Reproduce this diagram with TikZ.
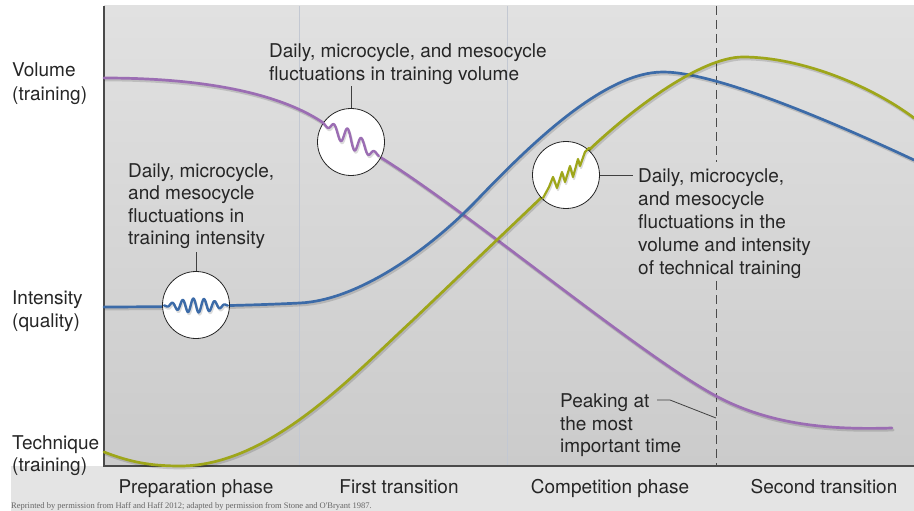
\documentclass[tikz,border=0pt]{standalone}
\usepackage{fontspec}
\setmainfont{TeX Gyre Heros}
\newfontfamily\notefont{Liberation Serif}
\definecolor{volc}{HTML}{9B6DB3}
\definecolor{intc}{HTML}{3C6BA8}
\definecolor{tecc}{HTML}{9EA61A}
\definecolor{txtc}{HTML}{262626}
\definecolor{axc}{HTML}{4A4A4A}
\definecolor{phc}{HTML}{C3C8D2}
\definecolor{stripc}{HTML}{E4E4E4}
\definecolor{bgtop}{HTML}{E1E1E1}
\definecolor{bgbot}{HTML}{CBCBCB}
\tikzset{
  lbl/.style={font=\fontsize{19}{23}\selectfont, text=txtc, inner sep=0pt, anchor=base west},
  phaselbl/.style={lbl, anchor=base},
  curve/.style={line width=2.7pt, line cap=round, line join=round},
  lens/.style={circle, draw=black!85, line width=0.8pt, fill=white, minimum size=67pt, inner sep=0pt},
  leader/.style={draw=black!75, line width=0.8pt},
  shadowc/.style={draw=black, draw opacity=0.14},
}
\begin{document}
\begin{tikzpicture}[x=1pt,y=-1pt]
\useasboundingbox (0,0) rectangle (914,511);
\fill[white] (0,0) rectangle (914,511);
\fill[stripc] (11,466) rectangle (914,511);
\shade[top color=bgtop, bottom color=bgbot] (104,6) rectangle (914,466);
% phase separators
\draw[phc, line width=0.8pt] (299,6) -- (299,466);
\draw[phc, line width=0.8pt] (507,6) -- (507,466);
\draw[axc, line width=1pt, dash pattern=on 9pt off 5pt] (716,6) -- (716,162);
\draw[axc, line width=1pt, dash pattern=on 9pt off 5pt] (716,281) -- (716,466);
% axes
\draw[axc, line width=1.4pt] (104,6) -- (104,466) -- (914,466);
% curves
\foreach \dx/\dy/\c in {1.2/-2/shadowc, 0/0/volc} {
  \draw[curve, \c, xshift=\dx pt, yshift=\dy pt] (104,78) .. controls (230,78) and (292,102) .. (322,122) -- (380,157) .. controls (470,213) and (640,355) .. (716,396) .. controls (770,425) and (830,430) .. (892,428);
}
\foreach \dx/\dy/\c in {1.2/-2/shadowc, 0/0/intc} {
  \draw[curve, \c, xshift=\dx pt, yshift=\dy pt] (104,307) .. controls (170,306.8) and (240,306) .. (300,303) .. controls (360,300) and (432,247) .. (477,200) .. controls (527,148) and (603,72) .. (663,72) .. controls (720,72) and (850,130) .. (914,160);
}
\foreach \dx/\dy/\c in {1.2/-2/shadowc, 0/0/tecc} {
  \draw[curve, \c, xshift=\dx pt, yshift=\dy pt] (104,452) .. controls (130,462) and (150,466) .. (180,466) .. controls (270,466) and (353,375) .. (413,320) -- (543,196) -- (589,150) .. controls (630,111) and (700,57) .. (743,57) .. controls (800,57) and (870,85) .. (914,118);
}
% magnifier circles
\node[lens] (cI) at (196,305) {};
\node[lens] (cV) at (351,142) {};
\node[lens] (cT) at (566,175) {};
% wiggles
\foreach \dx/\dy/\c in {1/-2/shadowc, 0/0/intc} {
  \draw[curve, \c, line width=2.4pt, xshift=\dx pt, yshift=\dy pt] plot[domain=0:1, samples=150, smooth, variable=\t] ({164+64*\t},{305.5+7*sin(\t*360*6)*sin(\t*180)});
}
\foreach \dx/\dy/\c in {1/-2/shadowc, 0/0/volc} {
  \draw[curve, \c, line width=2.4pt, xshift=\dx pt, yshift=\dy pt] plot[domain=0:1, samples=150, smooth, variable=\t] ({323+56*\t},{123+33*\t+9*sin(\t*360*4)*sin(\t*180)});
}
\foreach \dx/\dy/\c in {1/-2/shadowc, 0/0/tecc} {
  \draw[curve, \c, line width=2.2pt, xshift=\dx pt, yshift=\dy pt] (543,198) -- (549,187) -- (553,177) -- (557,188) -- (562,172) -- (565,182) -- (570,166) -- (573,177) -- (578,159) -- (580,166) -- (585,152) -- (589,148);
}
% leaders
\coordinate (lI) at (196,252);
\coordinate (lV) at (351,86);
\coordinate (lT) at (633,175);
\coordinate (pkA) at (657,400);
\coordinate (pkB) at (670,400);
\coordinate (pkC) at (716,418);
\draw[leader] (cI.north) -- (lI);
\draw[leader] (cV.north) -- (lV);
\draw[leader] (cT.east) -- (lT);
\draw[leader] (pkA) -- (pkB) -- (pkC);
% axis labels
\node[lbl] (volA) at (12,77) {Volume};
\node[lbl] (volB) at (12,100) {(training)};
\node[lbl] (intA) at (12,304) {Intensity};
\node[lbl] (intB) at (12,327) {(quality)};
\node[lbl] (tecA) at (12,449) {Technique};
\node[lbl] (tecB) at (12,471) {(training)};
% annotations
\node[lbl] (avA) at (269,58) {Daily, microcycle, and mesocycle};
\node[lbl] (avB) at (269,80.5) {fluctuations in training volume};
\node[lbl] (aiA) at (128,177) {Daily, microcycle,};
\node[lbl] (aiB) at (128,199.5) {and mesocycle};
\node[lbl] (aiC) at (128,222) {fluctuations in};
\node[lbl] (aiD) at (128,244.5) {training intensity};
\node[lbl] (atA) at (638,182) {Daily, microcycle,};
\node[lbl] (atB) at (638,205) {and mesocycle};
\node[lbl] (atC) at (638,228) {fluctuations in the};
\node[lbl] (atD) at (638,251) {volume and intensity};
\node[lbl] (atE) at (638,274) {of technical training};
\node[lbl] (pkT1) at (560,407) {Peaking at};
\node[lbl] (pkT2) at (560,430) {the most};
\node[lbl] (pkT3) at (560,452.5) {important time};
% phase labels
\node[phaselbl] (ph1) at (196,493) {Preparation phase};
\node[phaselbl] (ph2) at (399,493) {First transition};
\node[phaselbl] (ph3) at (610,493) {Competition phase};
\node[phaselbl] (ph4) at (824,493) {Second transition};
% footnote
\node[anchor=base west, inner sep=0pt, font=\notefont\fontsize{8.5}{9}\selectfont, text=black!60] (fn) at (11,508) {Reprinted by permission from Haff and Haff 2012; adapted by permission from Stone and O'Bryant 1987.};
\end{tikzpicture}
\end{document}
